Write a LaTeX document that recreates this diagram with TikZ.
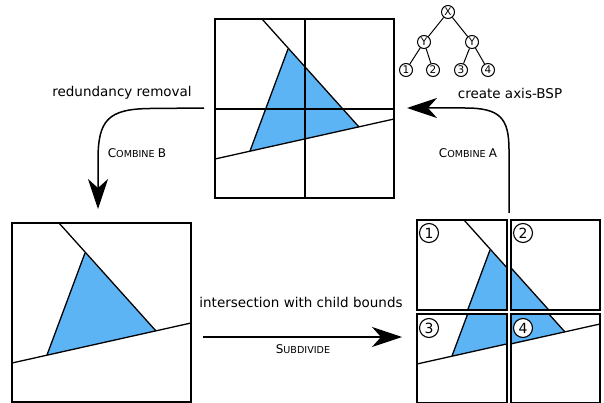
\documentclass[tikz,border=0pt]{standalone}
\usepackage{fontspec}
\setmainfont{DejaVu Sans}
\usetikzlibrary{arrows.meta}
\definecolor{triblue}{RGB}{92,180,245}
\newcommand{\polycontent}{%
  \fill[triblue] (73,30)--(35,132)--(144,108)--cycle;
  \draw[geo] (47,0)--(144,108);
  \draw[geo] (73,30)--(35,132);
  \draw[geo] (0,140)--(179,100);}
\newcommand{\mysc}[2]{{\fontsize{12}{12}\selectfont #1}{\fontsize{9.6}{9.6}\selectfont #2}}
\begin{document}
\begin{tikzpicture}[x=1pt,y=-1pt,
  geo/.style={line width=1.3pt},
  frame/.style={line width=1.4pt},
  flow/.style={line width=1.5pt,-{Stealth[length=30pt,width=20pt,inset=9pt]}},
  numc/.style={circle,draw,line width=1.1pt,fill=white,inner sep=0pt,minimum size=19pt,font=\fontsize{14}{14}\selectfont},
  treen/.style={circle,draw,line width=1pt,fill=white,inner sep=0pt,minimum size=13pt,font=\fontsize{10.5}{10.5}\selectfont},
  lbl/.style={font=\fontsize{13.5}{14}\selectfont,inner sep=0pt},
  sclbl/.style={inner sep=0pt}]
\useasboundingbox (0,0) rectangle (604,403);

% top square
\begin{scope}[shift={(215,19)}]
  \polycontent
  \draw[geo] (90,0)--(90,179);
  \draw[geo] (0,90)--(179,90);
  \draw[frame] (0,0) rectangle (179,179);
\end{scope}

% left square
\begin{scope}[shift={(12,223)}]
  \polycontent
  \draw[frame] (0,0) rectangle (179,179);
\end{scope}

% quadrants
\begin{scope}[shift={(417,220)}]
  \begin{scope}\clip (0,0) rectangle (90,90); \polycontent \end{scope}
  \draw[frame] (0,0) rectangle (90,90);
  \node[numc] (q1) at (12,13) {1};
\end{scope}
\begin{scope}[shift={(421,220)}]
  \begin{scope}\clip (90,0) rectangle (179,90); \polycontent \end{scope}
  \draw[frame] (90,0) rectangle (179,90);
  \node[numc] (q2) at (102,13) {2};
\end{scope}
\begin{scope}[shift={(417,224)}]
  \begin{scope}\clip (0,90) rectangle (90,179); \polycontent \end{scope}
  \draw[frame] (0,90) rectangle (90,179);
  \node[numc] (q3) at (12,104) {3};
\end{scope}
\begin{scope}[shift={(421,224)}]
  \begin{scope}\clip (90,90) rectangle (179,179); \polycontent \end{scope}
  \draw[frame] (90,90) rectangle (179,179);
  \node[numc] (q4) at (102,104) {4};
\end{scope}

% tree
\node[treen] (tx) at (448,12) {X};
\node[treen] (ty1) at (424,42) {Y};
\node[treen] (ty2) at (472,42) {Y};
\node[treen] (t1) at (406,70) {1};
\node[treen] (t2) at (433,70) {2};
\node[treen] (t3) at (461,70) {3};
\node[treen] (t4) at (488,70) {4};
\draw[line width=1pt] (tx)--(ty1) (tx)--(ty2) (ty1)--(t1) (ty1)--(t2) (ty2)--(t3) (ty2)--(t4);

% arrows
\coordinate (bs) at (204,108);
\coordinate (be) at (98,209);
\draw[flow] (bs) -- (150,108.5) .. controls (108,109) and (98,120) .. (98,160) -- (be);
\coordinate (as) at (509,213);
\coordinate (ae) at (407,108);
\draw[flow] (as) -- (509,150) .. controls (509,118) and (500,108) .. (465,108) -- (ae);
\coordinate (ss) at (203,337);
\coordinate (se) at (402,337);
\draw[flow] (ss) -- (se);

% labels
\node[lbl] (l1) at (122,93) {redundancy removal};
\node[sclbl] (l2) at (137,153) {\mysc{C}{OMBINE} \mysc{B}{}};
\node[lbl] (l3) at (510,93) {create axis-BSP};
\node[sclbl] (l4) at (468,153) {\mysc{C}{OMBINE} \mysc{A}{}};
\node[lbl] (l5) at (301,302) {intersection with child bounds};
\node[sclbl] (l6) at (303,349) {\mysc{S}{UBDIVIDE}};
\end{tikzpicture}
\end{document}
